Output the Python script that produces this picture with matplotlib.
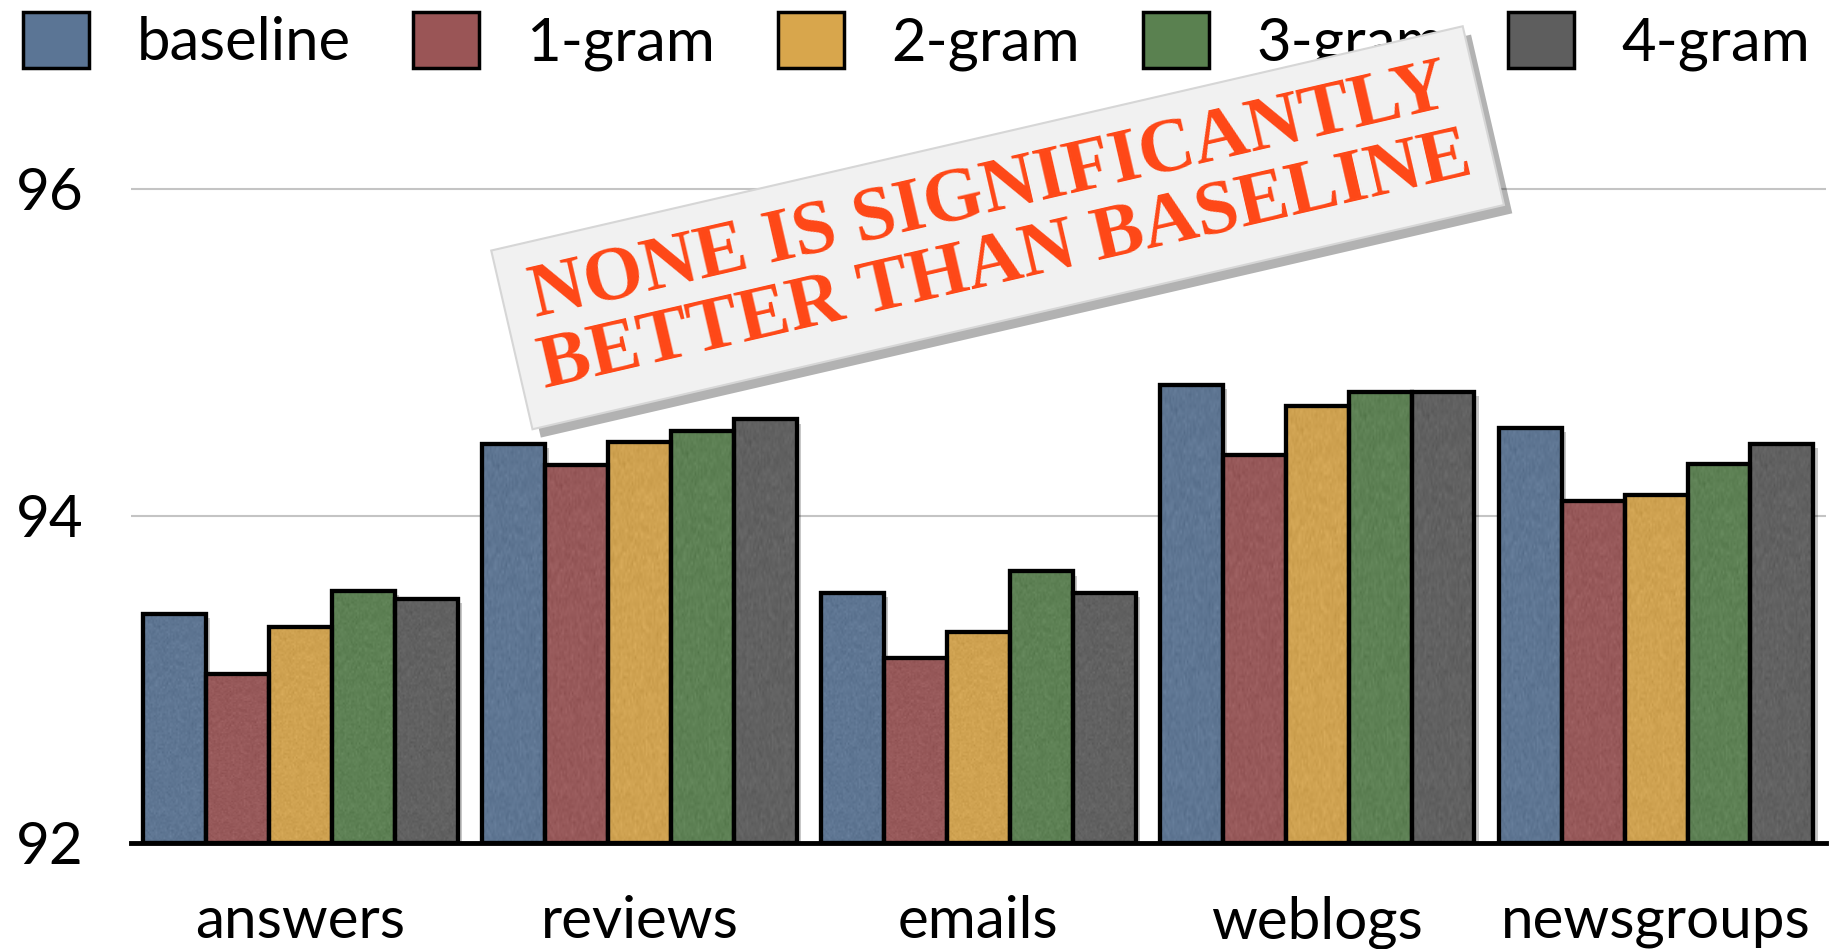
import numpy as np
import matplotlib
matplotlib.use("Agg")
import matplotlib.pyplot as plt
import matplotlib.patheffects as pe
from matplotlib.patches import Patch

# accuracy per domain for each n-gram feature set
domains = ["answers", "reviews", "emails", "weblogs", "newsgroups"]
series_names = ["baseline", "1-gram", "2-gram", "3-gram", "4-gram"]
baseline = [93.40, 94.44, 93.53, 94.80, 94.54]
gram1 = [93.03, 94.31, 93.13, 94.37, 94.09]
gram2 = [93.32, 94.45, 93.29, 94.67, 94.13]
gram3 = [93.54, 94.52, 93.66, 94.76, 94.32]
gram4 = [93.49, 94.59, 93.53, 94.76, 94.44]
colors = ["#5b7595", "#9a5556", "#d8a64c", "#5a8150", "#5e5e5e"]
stamp_text = "NONE IS SIGNIFICANTLY\nBETTER THAN BASELINE"

plt.rcParams["font.family"] = ["Lato", "DejaVu Sans"]

fig = plt.figure(figsize=(18.44, 9.49), dpi=100)
ax = fig.add_axes([0.071, 0.112, 0.919, 0.775])

all_series = [baseline, gram1, gram2, gram3, gram4]
x = np.arange(len(domains))
n = len(all_series)
group_w = 0.928
bar_w = group_w / n

shadow = [pe.SimplePatchShadow(offset=(3, -3), shadow_rgbFace="black", alpha=0.22), pe.Normal()]

# paper-like grain laid over each bar
rng = np.random.default_rng(7)
grain = rng.normal(0.5, 0.5, (120, 40))

for i, vals in enumerate(all_series):
    pos = x - group_w / 2 + bar_w * (i + 0.5)
    bars = ax.bar(pos, np.array(vals) - 92, bottom=92, width=bar_w,
                  color=colors[i], edgecolor="black", linewidth=3.0, zorder=3)
    for b in bars:
        b.set_path_effects(shadow)
        x0, y0 = b.get_x(), b.get_y()
        im = ax.imshow(grain, cmap="gray", vmin=-1, vmax=2, alpha=0.10,
                       extent=[x0, x0 + b.get_width(), y0, y0 + b.get_height()],
                       aspect="auto", interpolation="bilinear", zorder=3.5)
        im.set_clip_path(b)
        # redraw outline above the grain
        ax.bar(b.get_x() + b.get_width() / 2, b.get_height(), bottom=y0, width=b.get_width(),
               facecolor="none", edgecolor="black", linewidth=3.0, zorder=3.6)

ax.set_xlim(-0.5, 4.5)
ax.set_ylim(92, 96.5)
ax.set_yticks([92, 94, 96])
ax.set_xticks(x)
ax.set_xticklabels(domains)
ax.tick_params(axis="both", length=0, labelsize=42)
ax.tick_params(axis="y", pad=34)
ax.tick_params(axis="x", pad=38)
ax.yaxis.grid(True, color="#c4c4c4", linewidth=1.5, zorder=0)
ax.set_axisbelow(True)
for s in ["top", "right", "left"]:
    ax.spines[s].set_visible(False)
ax.spines["bottom"].set_linewidth(3.5)
ax.spines["bottom"].set_zorder(4)

handles = [Patch(facecolor=c, edgecolor="black", linewidth=2.5) for c in colors]
fig.legend(handles, series_names, loc="upper center", bbox_to_anchor=(0.497, 1.025),
           ncol=5, frameon=False, fontsize=43, handlelength=1.1, handleheight=1.05,
           handletextpad=0.8, columnspacing=1.05, borderaxespad=0.2)

# rotated stamp across the upper part of the chart
t = fig.text(0.541, 0.76, stamp_text, rotation=13, ha="center", va="center",
             color="#ff4716", fontsize=55, fontweight="bold", family="Liberation Serif",
             linespacing=1.05, zorder=10,
             bbox=dict(boxstyle="square,pad=0.28", facecolor="#f1f1f1",
                       edgecolor="#d6d6d6", linewidth=1.5))
t.get_bbox_patch().set_path_effects(
    [pe.SimplePatchShadow(offset=(6, -6), shadow_rgbFace="black", alpha=0.3), pe.Normal()])

fig.savefig("out.png", dpi=100)
